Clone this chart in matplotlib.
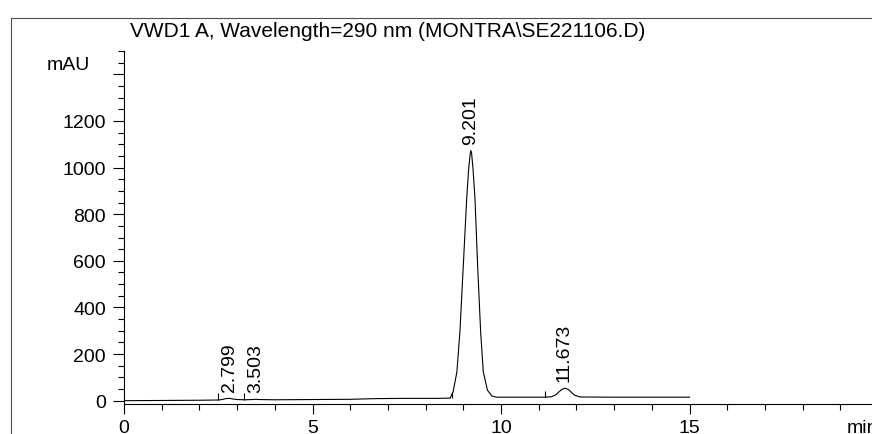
import matplotlib.pyplot as plt
from matplotlib.lines import Line2D
from matplotlib.ticker import MultipleLocator

plt.rcParams['font.family'] = ['Liberation Sans', 'DejaVu Sans']

# chromatogram trace (min, mAU)
times = [0.0, 1.0, 2.0, 2.5, 2.6, 2.7, 2.8, 2.9, 3.0, 3.2, 3.4, 3.5, 3.6, 4.0,
         5.0, 6.0, 6.7, 7.5, 8.3, 8.65, 8.73, 8.83, 8.91, 9.00, 9.09, 9.14,
         9.18, 9.20, 9.22, 9.26, 9.31, 9.38, 9.46, 9.53, 9.64, 9.76, 9.88,
         10.5, 11.17, 11.34, 11.45, 11.52, 11.60, 11.70, 11.80, 11.87, 11.95,
         12.10, 13.0, 14.0, 15.0]
signal = [0, 1, 2, 3, 5, 9, 10, 7, 5, 4, 5, 6, 5, 4,
          5, 6, 9, 10, 10, 11, 38, 124, 295, 580, 866, 990,
          1055, 1073, 1062, 990, 866, 580, 295, 124, 45, 20, 15,
          15, 15, 17, 25, 35, 47, 54, 47, 35, 24,
          16, 15, 15, 15]

peak_labels = ["2.799", "3.503", "9.201", "11.673"]
peak_tops = [10, 6, 1073, 54]

marker_times = [2.50, 3.18, 8.69, 11.17]
marker_base = [3, 4, 11, 15]

title = "VWD1 A, Wavelength=290 nm (MONTRA\\SE221106.D)"

fig = plt.figure(figsize=(8.72, 4.35), dpi=100)
ax = fig.add_axes([124 / 872, 30.5 / 435, 748 / 872, 352.5 / 435])

ax.plot(times, signal, color='black', lw=0.8)
ax.vlines(marker_times, marker_base, [b + 28 for b in marker_base],
          color='black', lw=0.8)

for lab, top in zip(peak_labels, peak_tops):
    ax.annotate(lab, xy=(float(lab), top), xytext=(0, 5),
                textcoords='offset points', rotation=90,
                ha='center', va='bottom', fontsize=14)

ax.set_xlim(0, 748 / 37.7)
ax.set_ylim(-12, 1500)

ax.xaxis.set_major_locator(MultipleLocator(5))
ax.xaxis.set_minor_locator(MultipleLocator(1))
ax.set_yticks(range(0, 1401, 200))
ax.set_yticklabels([str(v) for v in range(0, 1201, 200)] + [""])
ax.yaxis.set_minor_locator(MultipleLocator(50))

ax.tick_params(axis='both', which='major', labelsize=14, width=0.8)
ax.tick_params(axis='y', which='major', length=8, pad=5)
ax.tick_params(axis='x', which='major', length=7.5, pad=3.5)
ax.tick_params(axis='both', which='minor', length=4, width=0.8)

for side in ['top', 'right']:
    ax.spines[side].set_visible(False)
for side in ['left', 'bottom']:
    ax.spines[side].set_linewidth(0.8)

ax.annotate("min", xy=(847 / 872, 0), xycoords=('figure fraction', 'axes fraction'),
            xytext=(0, -11), textcoords='offset points',
            ha='left', va='top', fontsize=14, annotation_clip=False)
fig.text(90 / 872, 1 - 66 / 435, "mAU", ha='right', va='center', fontsize=14)
fig.text(130 / 872, 1 - 37 / 435, title, ha='left', va='baseline', fontsize=15)

# scanned frame around the plot
fig.add_artist(Line2D([11 / 872, 11 / 872], [0, 1 - 19 / 435],
                      transform=fig.transFigure, color='0.3', lw=0.8))
fig.add_artist(Line2D([11 / 872, 1], [1 - 19 / 435, 1 - 19 / 435],
                      transform=fig.transFigure, color='0.3', lw=0.8))

fig.savefig("out.png", dpi=100)
